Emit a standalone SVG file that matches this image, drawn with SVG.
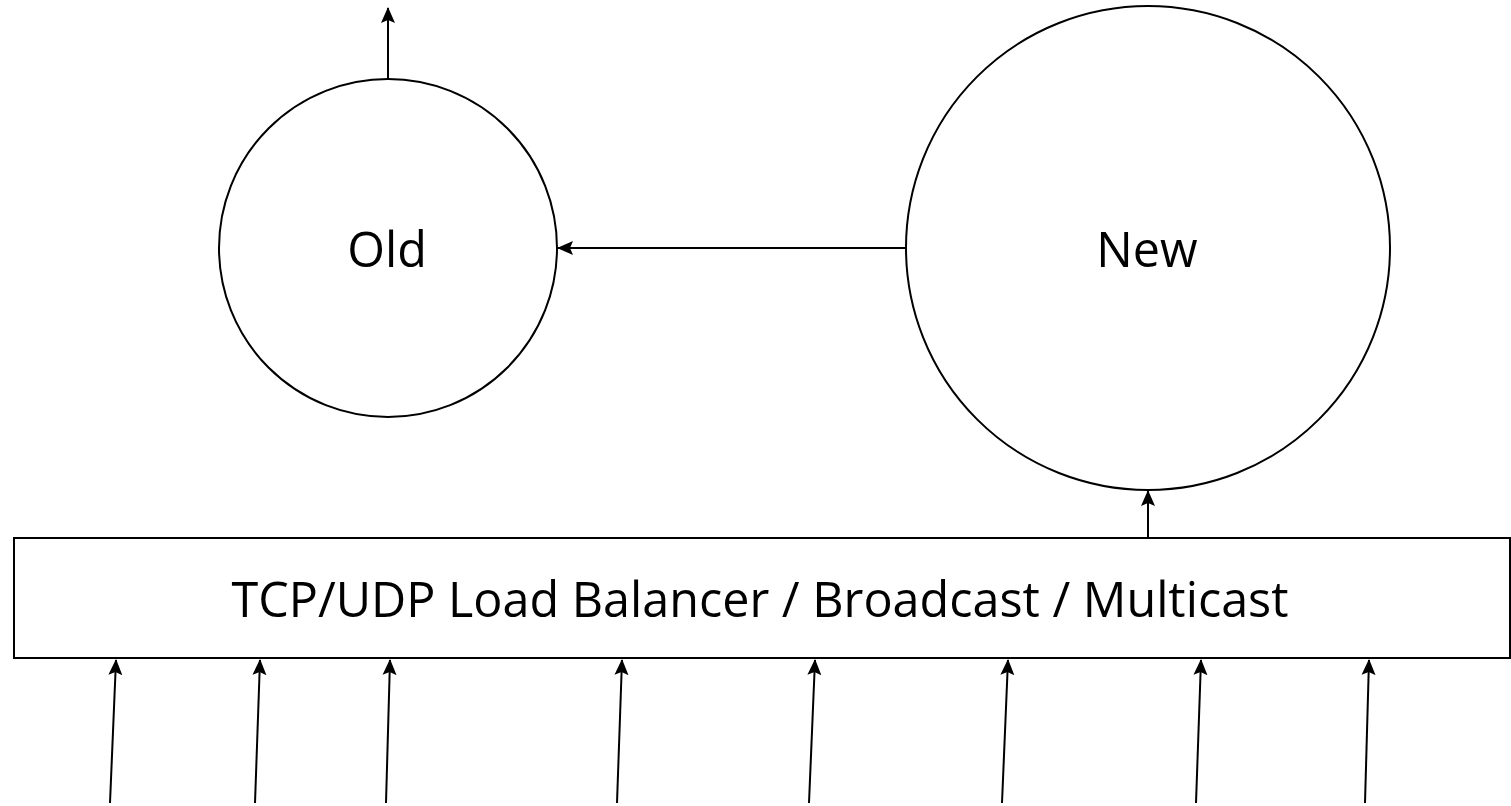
<svg xmlns="http://www.w3.org/2000/svg" width="1511" height="806" viewBox="0 0 1511 806">
<style>
.shape{fill:#fff;stroke:#000;stroke-width:2}
.edge{fill:none;stroke:#000;stroke-width:2}
.lbl{font-family:"Open Sans",sans-serif;font-size:48.5px;fill:#000;text-anchor:middle;dominant-baseline:central}
</style>
<defs>
<marker id="arr" viewBox="0 0 16 16" refX="15" refY="8" markerWidth="16" markerHeight="16" markerUnits="userSpaceOnUse" orient="auto">
<path d="M0,1 L16,8 L0,15 L3,8 Z" fill="#000"/>
</marker>
</defs>
<rect width="1511" height="806" fill="#fff"/>
<g id="old"><circle class="shape" cx="388" cy="248" r="169"/><text class="lbl" x="387" y="248">Old</text></g>
<g id="new"><circle class="shape" cx="1148" cy="248" r="242"/><text class="lbl" x="1147" y="248">New</text></g>
<g id="lb"><rect class="shape" x="14" y="538" width="1496" height="120"/><text class="lbl" x="760" y="598">TCP/UDP Load Balancer / Broadcast / Multicast</text></g>
<g id="connectors">
<path class="edge" d="M388,79 L388,8" marker-end="url(#arr)"/>
<path class="edge" d="M906,248 L558,248" marker-end="url(#arr)"/>
<path class="edge" d="M1148,538 L1148,491" marker-end="url(#arr)"/>
<path class="edge" d="M110,803 L116,660" marker-end="url(#arr)"/>
<path class="edge" d="M255,803 L260,660" marker-end="url(#arr)"/>
<path class="edge" d="M386,803 L390,660" marker-end="url(#arr)"/>
<path class="edge" d="M617,803 L622,660" marker-end="url(#arr)"/>
<path class="edge" d="M809,803 L815,660" marker-end="url(#arr)"/>
<path class="edge" d="M1002,803 L1008,660" marker-end="url(#arr)"/>
<path class="edge" d="M1196,803 L1201,660" marker-end="url(#arr)"/>
<path class="edge" d="M1365,803 L1369,660" marker-end="url(#arr)"/>
</g>
</svg>
